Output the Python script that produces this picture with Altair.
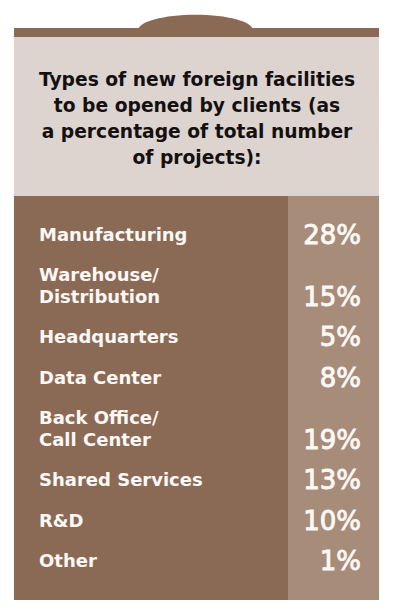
import altair as alt
import pandas as pd

# chart content
title_lines = [
    "Types of new foreign facilities",
    "to be opened by clients (as",
    "a percentage of total number",
    "of projects):",
]
categories = [
    "Manufacturing",
    "Warehouse/\nDistribution",
    "Headquarters",
    "Data Center",
    "Back Office/\nCall Center",
    "Shared Services",
    "R&D",
    "Other",
]
shares = [28, 15, 5, 8, 19, 13, 10, 1]

DARK = "#8b6a55"
SIDE = "#a88c7a"
LIGHT = "#ddd4d0"
TXT = "#fbf8f5"
W, H = 384, 595

# layout: each item sits 40px below the last, extra lines add 22px
rows, lines = [], []
extra = 0
for i, (cat, val) in enumerate(zip(categories, shares)):
    parts = cat.split("\n")
    extra += len(parts) - 1
    pos = 228 + 40.4 * i + 21.6 * extra
    rows.append({"cat": cat.replace("\n", " "), "pct": f"{val}%", "y": pos})
    for j, p in enumerate(parts):
        lines.append({"line": p, "y": pos - 21.6 * (len(parts) - 1 - j)})
items = pd.DataFrame(rows)
label_lines = pd.DataFrame(lines)
titles = pd.DataFrame({"line": title_lines, "y": [72 + 26 * k for k in range(len(title_lines))]})

ys = alt.Scale(domain=[0, H], reverse=True)
blank = alt.Data(values=[{}])


def box(x1, x2, y1, y2, color):
    return alt.Chart(blank).mark_rect(color=color).encode(
        x=alt.value(x1), x2=alt.value(x2), y=alt.value(y1), y2=alt.value(y2)
    )


tab = alt.Chart(blank).mark_point(
    shape="M-1,0.02 A1,0.27 0 0 1 1,0.02 Z", filled=True, fill=DARK, opacity=1, strokeWidth=0
).encode(x=alt.value(187.5), y=alt.value(21), size=alt.value(115 * 115))

bg = [
    tab,
    box(6, 371, 20, 29, DARK),
    box(6, 371, 29, 188, LIGHT),
    box(6, 280, 188, 592, DARK),
    box(280, 371, 188, 592, SIDE),
]

title = alt.Chart(titles).mark_text(
    font="DejaVu Sans", fontWeight="bold", fontSize=18.7, color="#141010", baseline="middle"
).encode(
    x=alt.value(189),
    y=alt.Y("y:Q", scale=ys, axis=None),
    text="line:N",
)

labels = alt.Chart(label_lines).mark_text(
    font="DejaVu Sans", fontWeight="bold", fontSize=18, color=TXT,
    align="left", baseline="middle"
).encode(
    x=alt.value(31),
    y=alt.Y("y:Q", scale=ys, axis=None),
    text="line:N",
)

pcts = alt.Chart(items).mark_text(
    font="DejaVu Sans", fontSize=26, color=TXT, stroke=TXT, strokeWidth=0.9,
    align="right", baseline="middle"
).encode(
    x=alt.value(353),
    y=alt.Y("y:Q", scale=ys, axis=None),
    text="pct:N",
    tooltip=["cat:N", "pct:N"],
)

chart = alt.layer(*bg, title, labels, pcts).properties(
    width=W, height=H, padding=0, autosize=alt.AutoSizeParams(type="none"), background="white"
).configure_view(strokeWidth=0)

chart.save("out.html", embed_options={"renderer": "svg", "actions": False})
